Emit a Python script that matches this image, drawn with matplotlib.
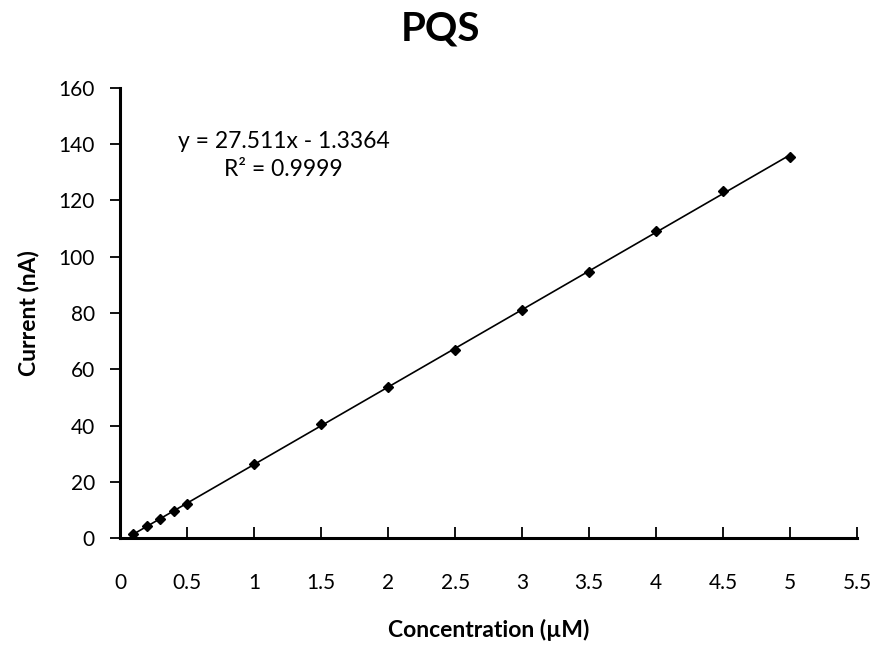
import numpy as np
import matplotlib
matplotlib.use("Agg")
import matplotlib.pyplot as plt

plt.rcParams['font.family'] = ['Lato', 'DejaVu Sans']

# concentration (uM) and measured current (nA)
conc = [0.1, 0.2, 0.3, 0.4, 0.5, 1.0, 1.5, 2.0, 2.5, 3.0, 3.5, 4.0, 4.5, 5.0]
current = [1.3, 4.2, 6.8, 9.5, 12.2, 26.5, 40.5, 53.8, 67.0, 81.0, 94.5, 109.0, 123.3, 135.6]

xticks = [0, 0.5, 1, 1.5, 2, 2.5, 3, 3.5, 4, 4.5, 5, 5.5]
yticks = [0, 20, 40, 60, 80, 100, 120, 140, 160]

fig = plt.figure(figsize=(8.82, 6.46), dpi=100)
ax = fig.add_axes([0.136, 0.167, 0.836, 0.697])

# linear trendline over the data range
slope, icpt = np.polyfit(conc, current, 1)
xl = np.array([min(conc), max(conc)])
ax.plot(xl, slope*xl + icpt, color='black', lw=1.2, zorder=2)
ax.plot(conc, current, linestyle='', marker='D', markersize=5.5,
        color='black', zorder=3)

ax.set_xlim(0, 5.5)
ax.set_ylim(0, 160)
ax.set_xticks(xticks)
ax.set_xticklabels([f"{t:g}" for t in xticks])
ax.set_yticks(yticks)

for s in ['top', 'right']:
    ax.spines[s].set_visible(False)
for s in ['left', 'bottom']:
    ax.spines[s].set_linewidth(2.2)

ax.tick_params(axis='x', direction='in', length=8, width=1.3, pad=25, labelsize=15)
ax.tick_params(axis='y', direction='out', length=7, width=1.3, pad=11, labelsize=15)

ax.set_xlabel("Concentration (µM)", fontsize=16.5, fontweight='bold', labelpad=19)
ax.set_ylabel("Current (nA)", fontsize=16.5, fontweight='bold', labelpad=14)

fig.text(0.5, 0.955, "PQS", ha='center', va='center', fontsize=29, fontweight='bold')

ax.text(1.22, 136.0, "y = 27.511x - 1.3364\nR² = 0.9999", ha='center', va='center',
        multialignment='center', fontsize=16.5, linespacing=1.45)

fig.savefig("out.png", dpi=100)
